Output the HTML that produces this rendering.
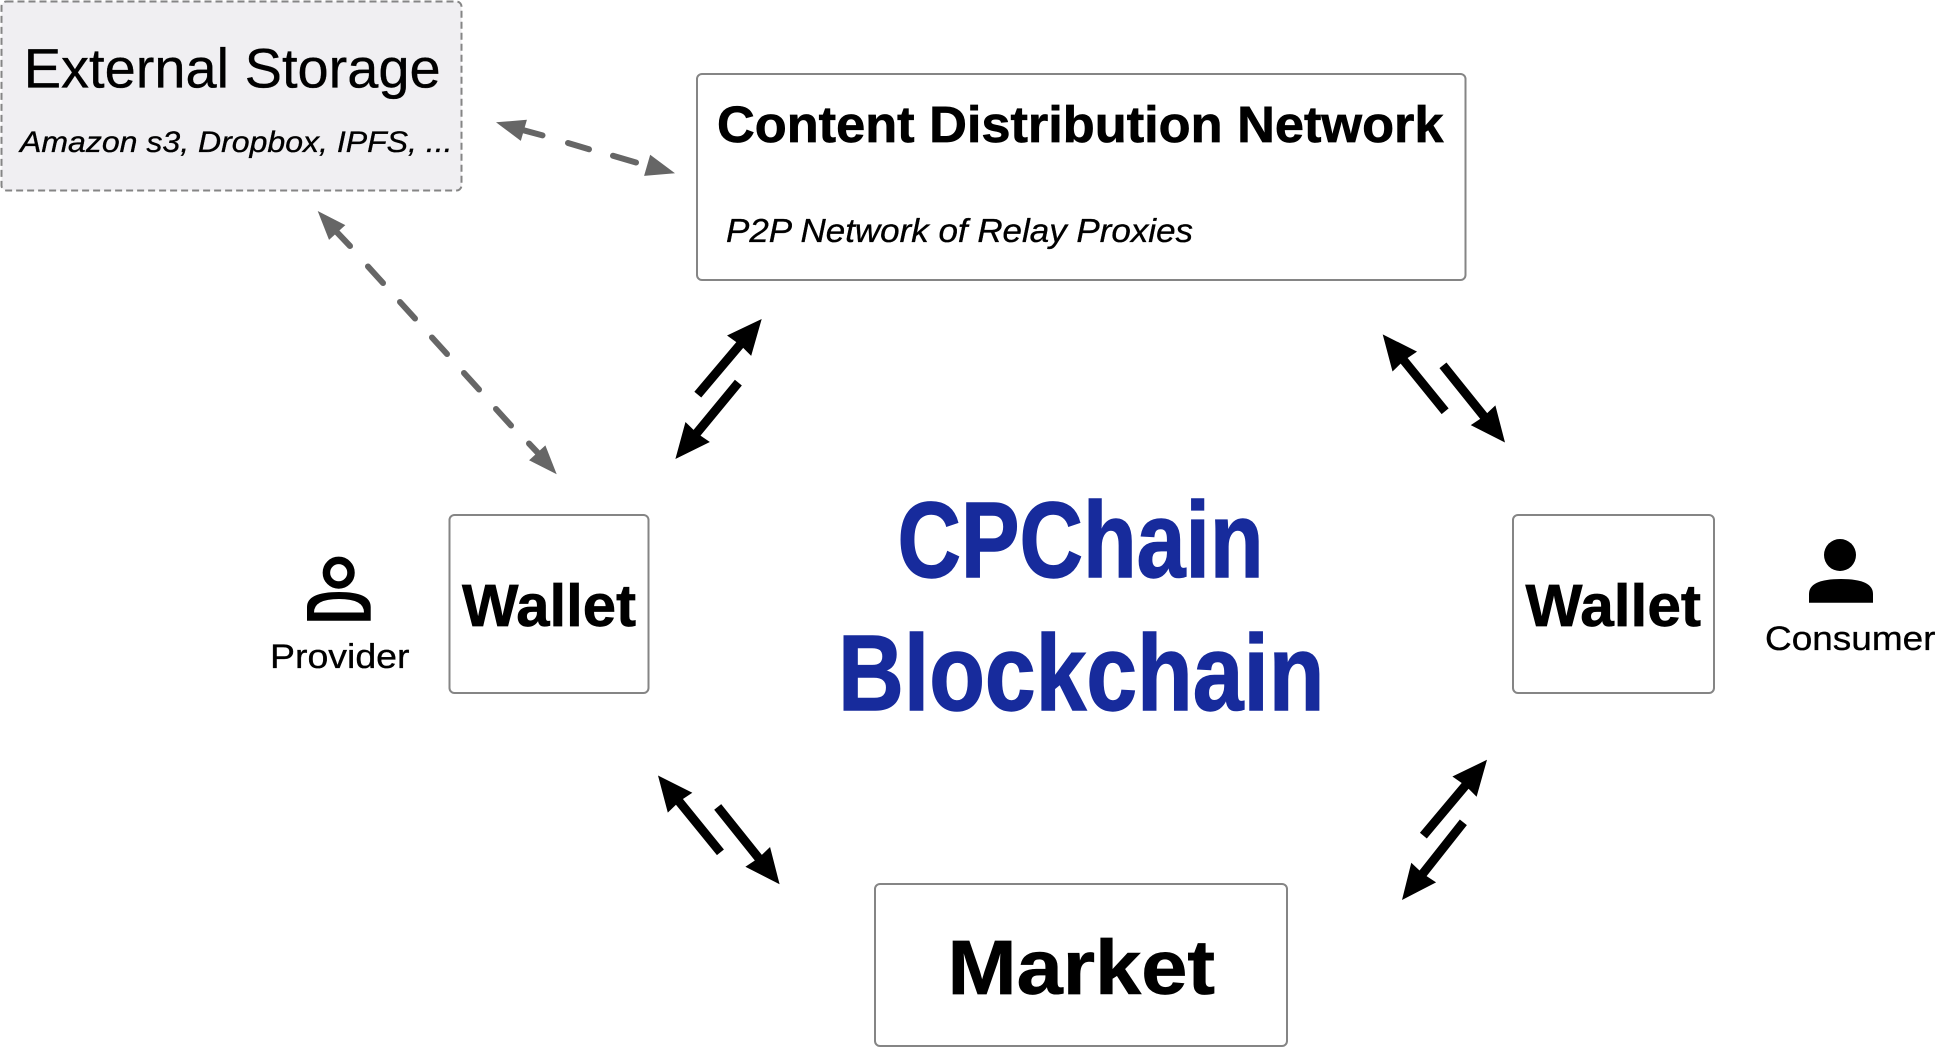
<!DOCTYPE html>
<html>
<head>
<meta charset="utf-8">
<style>
html,body{margin:0;padding:0;background:#fff;width:1946px;height:1048px;overflow:hidden}
svg{display:block}
text{font-family:"Liberation Sans",Arial,sans-serif;fill:#000;stroke:#000;stroke-width:.35}
.b{font-weight:700;stroke-width:.7}
.i{font-style:italic}
.c{fill:#172b9c;stroke:#172b9c;stroke-width:1.4}
</style>
</head>
<body>
<svg width="1946" height="1048" viewBox="0 0 1946 1048" xmlns="http://www.w3.org/2000/svg">
<defs>
<path id="ar" d="M0 0L-35 -15.8L-34 -4.5L-99 -4.5L-99 4.5L-34 4.5L-35 15.8Z" fill="#000"/>
<path id="gh" d="M0 0L-29 -11L-29 11Z" fill="#666"/>
</defs>

<rect x="1.5" y="1.5" width="460" height="189" rx="5" fill="#f0eff2" stroke="#858585" stroke-width="2" stroke-dasharray="7 4"/>
<text x="23.7" y="87.5" font-size="56" textLength="417" lengthAdjust="spacingAndGlyphs">External Storage</text>
<text class="i" x="20" y="152" font-size="30" textLength="432.5" lengthAdjust="spacingAndGlyphs">Amazon s3, Dropbox, IPFS, ...</text>

<rect x="697" y="74" width="768.5" height="206" rx="5" fill="#fff" stroke="#858585" stroke-width="2"/>
<text class="b" x="717" y="142" font-size="51" textLength="726.5" lengthAdjust="spacingAndGlyphs">Content Distribution Network</text>
<text class="i" x="726" y="242" font-size="33" textLength="467" lengthAdjust="spacingAndGlyphs">P2P Network of Relay Proxies</text>

<rect x="449.5" y="515" width="199" height="178" rx="5" fill="#fff" stroke="#858585" stroke-width="2"/>
<text class="b" x="462" y="626" font-size="59" textLength="174" lengthAdjust="spacingAndGlyphs">Wallet</text>

<rect x="1513" y="515" width="201" height="178" rx="5" fill="#fff" stroke="#858585" stroke-width="2"/>
<text class="b" x="1525.5" y="626" font-size="59" textLength="175.5" lengthAdjust="spacingAndGlyphs">Wallet</text>

<rect x="875" y="884" width="412" height="162" rx="5" fill="#fff" stroke="#858585" stroke-width="2"/>
<text class="b" x="947.5" y="994" font-size="77" textLength="267.5" lengthAdjust="spacingAndGlyphs">Market</text>

<text class="b c" x="897.5" y="577" font-size="108" textLength="366" lengthAdjust="spacingAndGlyphs">CPChain</text>
<text class="b c" x="838" y="710" font-size="108" textLength="486.5" lengthAdjust="spacingAndGlyphs">Blockchain</text>

<circle cx="338.7" cy="572.7" r="12.3" fill="none" stroke="#000" stroke-width="7.5"/>
<path fill-rule="evenodd" d="M307 620.7V607Q307 592 339 592Q370.7 592 370.7 607V620.7ZM314 612.5H364Q364 599 339 599Q314 599 314 612.5Z" fill="#000"/>
<text x="270" y="668" font-size="34.5" textLength="139.5" lengthAdjust="spacingAndGlyphs">Provider</text>

<circle cx="1840" cy="555" r="16" fill="#000"/>
<path d="M1809 602.7V594Q1809 579 1841 579Q1873 579 1873 594V602.7Z" fill="#000"/>
<text x="1765" y="650" font-size="34.5" textLength="170.5" lengthAdjust="spacingAndGlyphs">Consumer</text>

<use href="#ar" transform="translate(761.7 319) rotate(-49.8)"/>
<use href="#ar" transform="translate(675.4 459) rotate(129.5)"/>
<use href="#ar" transform="translate(1382.7 334.4) rotate(-129.1)"/>
<use href="#ar" transform="translate(1505 442.5) rotate(51.2)"/>
<use href="#ar" transform="translate(658 775.5) rotate(-129.1)"/>
<use href="#ar" transform="translate(779.6 884.2) rotate(51.3)"/>
<use href="#ar" transform="translate(1487 759.8) rotate(-50)"/>
<use href="#ar" transform="translate(1402 900) rotate(128.3)"/>

<g fill="none" stroke="#666" stroke-width="6" stroke-linecap="round">
<line x1="523.7" y1="130.3" x2="542.5" y2="135.4"/>
<line x1="568" y1="143" x2="589" y2="149.3"/>
<line x1="613" y1="155.8" x2="636" y2="162.5"/>
<line x1="336.7" y1="232" x2="350" y2="246"/>
<line x1="368" y1="266.5" x2="383" y2="283"/>
<line x1="400" y1="302" x2="415" y2="318.5"/>
<line x1="432" y1="337.5" x2="447" y2="354"/>
<line x1="464" y1="373" x2="479" y2="389.5"/>
<line x1="496" y1="409" x2="511" y2="425.5"/>
<line x1="529" y1="443.5" x2="538" y2="453"/>
</g>
<use href="#gh" transform="translate(496 122.3) rotate(196.1)"/>
<use href="#gh" transform="translate(675 173.3) rotate(16.1)"/>
<use href="#gh" transform="translate(317.7 211) rotate(227.8)"/>
<use href="#gh" transform="translate(556.7 474.3) rotate(47.8)"/>
</svg>
</body>
</html>
